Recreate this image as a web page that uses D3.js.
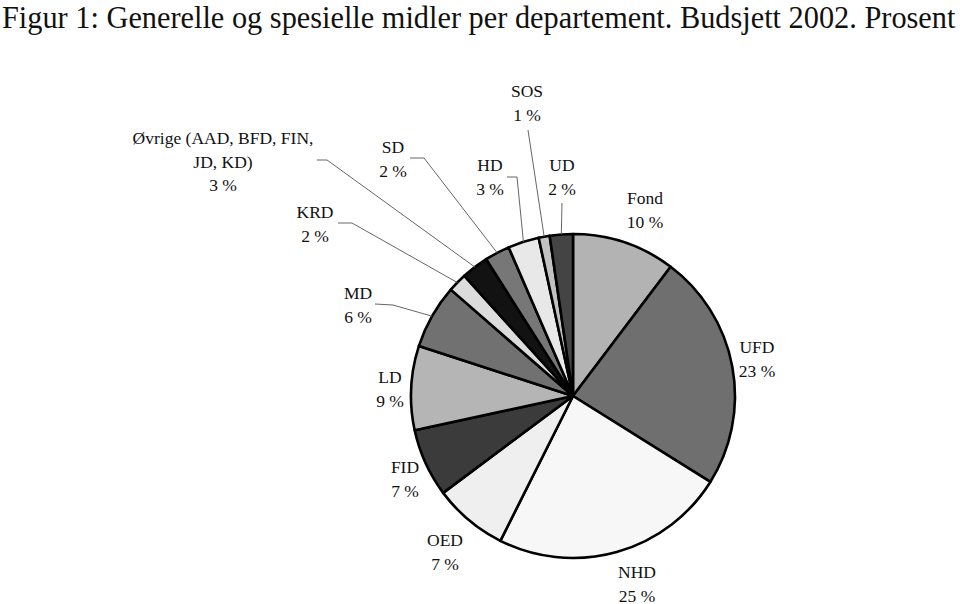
<!DOCTYPE html>
<html>
<head>
<meta charset="utf-8">
<script src="https://cdn.jsdelivr.net/npm/d3@7"></script>
<style>
  html, body { margin: 0; padding: 0; background: #fff; }
  svg { display: block; }
  text { font-family: "Liberation Serif", "Times New Roman", serif; fill: #111; }
</style>
</head>
<body>
<svg id="chart" width="960" height="604"></svg>
<script>
// ---- Data ----
const title = "Figur 1: Generelle og spesielle midler per departement. Budsjett 2002. Prosent";
const categories = ["Fond", "UFD", "NHD", "OED", "FID", "LD", "MD", "KRD",
  "Øvrige (AAD, BFD, FIN, JD, KD)", "SD", "HD", "SOS", "UD"];
const values = [10.3, 23.6, 23.5, 7.4, 6.8, 8.4, 6.4, 1.9, 2.7, 2.5, 3.1, 1.1, 2.3];
const percentLabels = ["10 %", "23 %", "25 %", "7 %", "7 %", "9 %", "6 %", "2 %", "3 %", "2 %", "3 %", "1 %", "2 %"];
const nameLines = [["Fond"], ["UFD"], ["NHD"], ["OED"], ["FID"], ["LD"], ["MD"], ["KRD"],
  ["Øvrige (AAD, BFD, FIN,", "JD, KD)"], ["SD"], ["HD"], ["SOS"], ["UD"]];

// ---- Styling / layout (not data) ----
const fills = ["#b3b3b3", "#6f6f6f", "#f7f7f7", "#efefef", "#3b3b3b", "#b5b5b5", "#717171",
  "#dcdcdc", "#121212", "#777777", "#e8e8e8", "#c2c2c2", "#444444"];
// label centre (x, y of first line), optional leader: start point and elbow
const labelLayout = {
  "Fond":   { x: 645, y: 198 },
  "UFD":    { x: 757, y: 347 },
  "NHD":    { x: 637, y: 572 },
  "OED":    { x: 445, y: 540 },
  "FID":    { x: 405, y: 467 },
  "LD":     { x: 390, y: 377 },
  "MD":     { x: 358, y: 293, leader: [[375, 304], [393, 305]] },
  "KRD":    { x: 315, y: 212, leader: [[338, 223], [352, 223]] },
  "Øvrige (AAD, BFD, FIN, JD, KD)": { x: 223, y: 138, leader: [[317, 160], [327, 160]] },
  "SD":     { x: 393, y: 147, leader: [[410, 158], [424, 158]] },
  "HD":     { x: 490, y: 165, leader: [[507, 177], [517, 177]] },
  "SOS":    { x: 527, y: 91,  leader: [[528, 130], [528, 130]] },
  "UD":     { x: 562, y: 165, leader: [[562, 203], [562, 203]] }
};
const cx = 573, cy = 396, radius = 162;
const lineH = 23.5;

const svg = d3.select("#chart");

// Title: condensed like the reference — fit width with a smaller font, then stretch vertically
const titleTargetW = 954, titleVisualSize = 31;
const tt = svg.append("text")
  .attr("x", 0).attr("y", 0)
  .attr("font-size", titleVisualSize)
  .text(title);
const natW = tt.node().getComputedTextLength();
const fitSize = Math.min(titleVisualSize, titleVisualSize * titleTargetW / natW);
tt.attr("font-size", fitSize)
  .attr("transform", `translate(2,28) scale(1,${titleVisualSize / fitSize})`);

const pie = d3.pie().sort(null).value(d => d.value).startAngle(0).endAngle(2 * Math.PI);
const data = categories.map((c, i) => ({ name: c, value: values[i], fill: fills[i], pct: percentLabels[i], lines: nameLines[i] }));
const arcs = pie(data);
const arc = d3.arc().innerRadius(0).outerRadius(radius);

const g = svg.append("g").attr("transform", `translate(${cx},${cy})`);

g.selectAll("path.slice")
  .data(arcs)
  .join("path")
  .attr("class", "slice")
  .attr("d", arc)
  .attr("fill", d => d.data.fill)
  .attr("stroke", "#000")
  .attr("stroke-width", 2.6)
  .attr("stroke-linejoin", "round");

// leader lines
const leaderLine = d3.line();
arcs.forEach(d => {
  const lay = labelLayout[d.data.name];
  if (!lay.leader) return;
  const mid = (d.startAngle + d.endAngle) / 2;
  const end = [cx + radius * Math.sin(mid), cy - radius * Math.cos(mid)];
  svg.append("path")
    .attr("d", leaderLine([lay.leader[0], lay.leader[1], end]))
    .attr("fill", "none")
    .attr("stroke", "#666")
    .attr("stroke-width", 1);
});

// labels
arcs.forEach(d => {
  const lay = labelLayout[d.data.name];
  const lines = d.data.lines.concat([d.data.pct]);
  const t = svg.append("text")
    .attr("text-anchor", "middle")
    .attr("font-size", 17.5);
  lines.forEach((ln, k) => {
    t.append("tspan")
      .attr("x", lay.x)
      .attr("y", lay.y + k * lineH + 6)
      .text(ln);
  });
});
</script>
</body>
</html>
